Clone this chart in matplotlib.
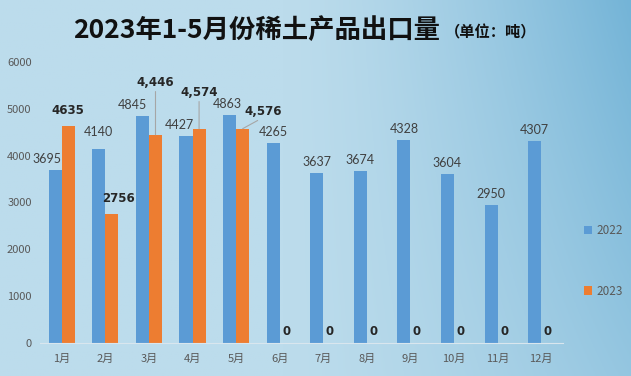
import matplotlib.pyplot as plt
import numpy as np

plt.rcParams['font.family'] = ['Noto Sans CJK SC', 'DejaVu Sans']

months = [f"{i}月" for i in range(1, 13)]
y2022 = [3695, 4140, 4845, 4427, 4863, 4265, 3637, 3674, 4328, 3604, 2950, 4307]
y2023 = [4635, 2756, 4446, 4574, 4576, 0, 0, 0, 0, 0, 0, 0]
labels2023 = ["4635", "2756", "4,446", "4,574", "4,576", "0", "0", "0", "0", "0", "0", "0"]

blue = "#5B9BD5"
orange = "#ED7D31"

fig = plt.figure(figsize=(6.31, 3.76), dpi=100)

# gradient background
bg = fig.add_axes([0, 0, 1, 1], zorder=-10)
nx, ny = 300, 200
xx, yy = np.meshgrid(np.linspace(0, 1, nx), np.linspace(0, 1, ny))  # yy=0 top
t = np.clip((xx - 0.45) / 0.55, 0, 1) ** 1.4 * (1 - 0.45 * yy)
c0 = np.array([188, 220, 236]) / 255
c1 = np.array([116, 180, 215]) / 255
img = c0[None, None, :] * (1 - t[..., None]) + c1[None, None, :] * t[..., None]
bg.imshow(img, aspect='auto', extent=[0, 1, 0, 1])
bg.axis('off')

ax = fig.add_axes([40 / 631, 33 / 376, 523 / 631, 281 / 376])
ax.patch.set_alpha(0)
x = np.arange(len(months))
w = 0.3
ax.bar(x - w / 2, y2022, w, color=blue, label="2022")
ax.bar(x + w / 2, y2023, w, color=orange, label="2023")

ax.set_xlim(-0.5, 11.5)
ax.set_ylim(0, 6000)
ax.set_yticks(range(0, 6001, 1000))
ax.set_xticks(x)
ax.set_xticklabels(months)
ax.tick_params(axis='both', length=0, labelsize=8, labelcolor="#595959")
ax.tick_params(axis='x', pad=8)
ax.tick_params(axis='y', pad=6)
for s in ['top', 'right', 'left']:
    ax.spines[s].set_visible(False)
ax.spines['bottom'].set_color("#d9e6ee")

# 2022 labels
dx22 = [-0.18, 0, -0.22, -0.15, -0.05, 0, 0, 0, 0, 0, 0, 0]
dy22 = [3.5, 8, 3.5, 3.5, 3.5, 3.5, 3.5, 3.5, 3.5, 3.5, 3.5, 3.5]
for i, v in enumerate(y2022):
    ax.annotate(str(v), (x[i] - w / 2 + dx22[i], v), xytext=(0, dy22[i]), textcoords='offset points',
                ha='center', va='bottom', fontsize=9, color="#404040", family='Lato')

# 2023 labels
lead = {2: (0, 46), 3: (0, 30), 4: (0.46, 11)}
for i, v in enumerate(y2023):
    xb = x[i] + w / 2
    if i in lead:
        dxl, dy = lead[i]
        ax.annotate(labels2023[i], (xb, v), xytext=(xb + dxl, v + dy * 6000 / 281),
                    ha='center', va='bottom', fontsize=8.5, fontweight='bold', color="#262626",
                    family='DejaVu Sans',
                    arrowprops=dict(arrowstyle='-', color="#a6a6a6", lw=0.8, shrinkA=0, shrinkB=0,
                                    relpos=(0.5, 0.0)))
    else:
        off = (0, 6.5) if v > 0 else (0, 3.5)
        dxx = 0.15 if i == 1 else 0
        ax.annotate(labels2023[i], (xb + dxx, v), xytext=off, textcoords='offset points',
                    ha='center', va='bottom', fontsize=8.5, fontweight='bold', color="#262626",
                    family='DejaVu Sans')

fig.legend(loc='center left', bbox_to_anchor=(573 / 631, 1 - 261 / 376), frameon=False,
           fontsize=8.5, labelcolor="#595959", handlelength=0.7, handleheight=0.7,
           labelspacing=4.0, handletextpad=0.4)

fig.text(440 / 631, 1 - 30 / 376, "2023年1-5月份稀土产品出口量", ha='right', va='center',
         fontsize=19, fontweight='bold', color="#111111")
fig.text(445 / 631, 1 - 32 / 376, "（单位：吨）", ha='left', va='center',
         fontsize=11, fontweight='bold', color="#111111")

fig.savefig("out.png", dpi=100)
